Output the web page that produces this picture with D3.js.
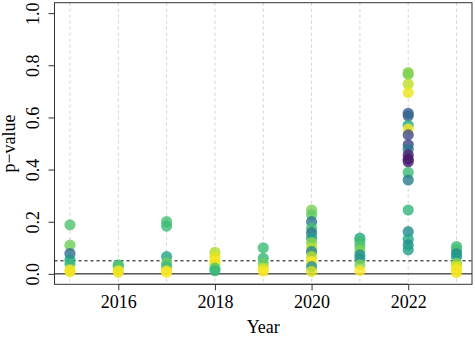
<!DOCTYPE html>
<html>
<head>
<meta charset="utf-8">
<script src="https://cdn.jsdelivr.net/npm/d3@7"></script>
<style>
  html, body { margin: 0; padding: 0; background: #fff; }
  svg { display: block; }
  text { font-family: "Liberation Serif", "DejaVu Serif", serif; fill: #000; }
</style>
</head>
<body>
<svg id="chart" width="475" height="339"></svg>
<script>
// ---- data ----
const years = [2015, 2016, 2017, 2018, 2019, 2020, 2021, 2022, 2023];
const xTickYears = [2016, 2018, 2020, 2022];
const yTicks = [0, 0.2, 0.4, 0.6, 0.8, 1.0];
const yTickLabels = ["0.0", "0.2", "0.4", "0.6", "0.8", "1.0"];
const threshold = 0.05;

const pointYear = [
  2015,2015,2015,2015,2015,2015,2015,
  2016,2016,2016,2016,
  2017,2017,2017,2017,2017,2017,2017,
  2018,2018,2018,2018,2018,2018,
  2019,2019,2019,2019,2019,
  2020,2020,2020,2020,2020,2020,2020,2020,2020,2020,2020,2020,2020,
  2021,2021,2021,2021,2021,2021,2021,2021,
  2022,2022,2022,2022,2022,2022,2022,2022,2022,2022,2022,2022,2022,2022,2022,2022,2022,2022,2022,2022,2022,
  2023,2023,2023,2023,2023,2023,2023,2023
];
const pointP = [
  0.188,0.110,0.078,0.053,0.038,0.015,0.008,
  0.035,0.028,0.012,0.006,
  0.200,0.183,0.066,0.042,0.028,0.012,0.006,
  0.083,0.065,0.050,0.040,0.022,0.012,
  0.100,0.060,0.040,0.020,0.010,
  0.245,0.226,0.200,0.175,0.158,0.138,0.120,0.100,0.085,0.066,0.047,0.028,0.009,
  0.137,0.124,0.107,0.090,0.073,0.058,0.035,0.012,
  0.772,0.765,0.728,0.695,0.616,0.606,0.570,0.555,0.533,0.495,0.478,0.456,0.440,0.430,0.389,0.360,0.245,0.162,0.133,0.111,0.092,
  0.105,0.092,0.077,0.066,0.040,0.028,0.015,0.005
];
const pointShade = [
  0.72,0.78,0.35,0.55,0.68,1.00,0.97,
  0.68,0.72,1.00,0.97,
  0.70,0.68,0.58,0.78,0.66,0.98,1.00,
  0.88,0.95,1.00,0.97,0.72,0.66,
  0.68,0.66,0.78,0.95,1.00,
  0.80,0.75,0.40,0.70,0.38,0.55,0.82,0.88,0.45,0.90,1.00,0.50,0.95,
  0.60,0.68,0.72,0.80,0.50,0.52,0.80,1.00,
  0.82,0.80,0.90,0.97,0.30,0.32,0.60,1.00,0.22,0.20,0.40,0.10,0.05,0.08,0.68,0.42,0.66,0.48,0.60,0.50,0.58,
  0.68,0.70,0.45,0.55,0.82,0.95,1.00,0.98
];

// ---- layout ----
const svg = d3.select("#chart");
const box = { left: 54.5, right: 472, top: 2.7, bottom: 284.3 };

const x = d3.scaleLinear()
  .domain([2015 - 0.32, 2023 + 0.32])
  .range([box.left, box.right]);
const y = d3.scaleLinear()
  .domain([-0.04, 1.04])
  .range([box.bottom, box.top]);

// vertical grid lines
svg.append("g").selectAll("line").data(years).join("line")
  .attr("x1", d => x(d)).attr("x2", d => x(d))
  .attr("y1", box.top).attr("y2", box.bottom)
  .attr("stroke", "#d3d3d3").attr("stroke-width", 1)
  .attr("stroke-dasharray", "3,3");

// reference lines
svg.append("line")
  .attr("x1", box.left).attr("x2", box.right)
  .attr("y1", y(0)).attr("y2", y(0))
  .attr("stroke", "#000").attr("stroke-width", 1);
svg.append("line")
  .attr("x1", box.left).attr("x2", box.right)
  .attr("y1", y(threshold)).attr("y2", y(threshold))
  .attr("stroke", "#000").attr("stroke-width", 1)
  .attr("stroke-dasharray", "3,3");

// points
const pts = pointYear.map((yr, i) => ({ yr, p: pointP[i], s: pointShade[i] }));
svg.append("g").selectAll("circle").data(pts).join("circle")
  .attr("cx", d => x(d.yr))
  .attr("cy", d => y(d.p))
  .attr("r", 5.6)
  .attr("fill", d => d3.interpolateViridis(d.s))
  .attr("fill-opacity", 0.8);

// box
svg.append("rect")
  .attr("x", box.left).attr("y", box.top)
  .attr("width", box.right - box.left).attr("height", box.bottom - box.top)
  .attr("fill", "none").attr("stroke", "#333").attr("stroke-width", 1);

// x axis
const xAxis = d3.axisBottom(x)
  .tickValues(xTickYears)
  .tickFormat(d3.format("d"))
  .tickSize(6)
  .tickPadding(5);
const gx = svg.append("g").attr("transform", `translate(0,${box.bottom})`).call(xAxis);
gx.select(".domain").attr("d", `M${x(xTickYears[0])},0H${x(xTickYears[xTickYears.length-1])}`).attr("stroke", "#333");
gx.selectAll(".tick line").attr("stroke", "#333");
gx.selectAll("text").attr("font-size", 18).attr("font-family", "Liberation Serif").attr("fill", "#000");

// y axis
const yAxis = d3.axisLeft(y)
  .tickValues(yTicks)
  .tickFormat((d, i) => yTickLabels[i])
  .tickSize(6);
const gy = svg.append("g").attr("transform", `translate(${box.left},0)`).call(yAxis);
gy.select(".domain").attr("d", `M0,${y(0)}V${y(1)}`).attr("stroke", "#333");
gy.selectAll(".tick line").attr("stroke", "#333");
gy.selectAll("text")
  .attr("font-size", 18).attr("font-family", "Liberation Serif").attr("fill", "#000")
  .attr("x", null).attr("dy", null)
  .attr("text-anchor", "middle")
  .attr("transform", "translate(-16,0) rotate(-90)");

// axis titles
svg.append("text")
  .attr("x", (box.left + box.right) / 2)
  .attr("y", 333)
  .attr("text-anchor", "middle")
  .attr("font-size", 18)
  .text("Year");
svg.append("text")
  .attr("transform", `translate(15,${(box.top + box.bottom) / 2}) rotate(-90)`)
  .attr("text-anchor", "middle")
  .attr("font-size", 18)
  .text("p\u2212value");
</script>
</body>
</html>
